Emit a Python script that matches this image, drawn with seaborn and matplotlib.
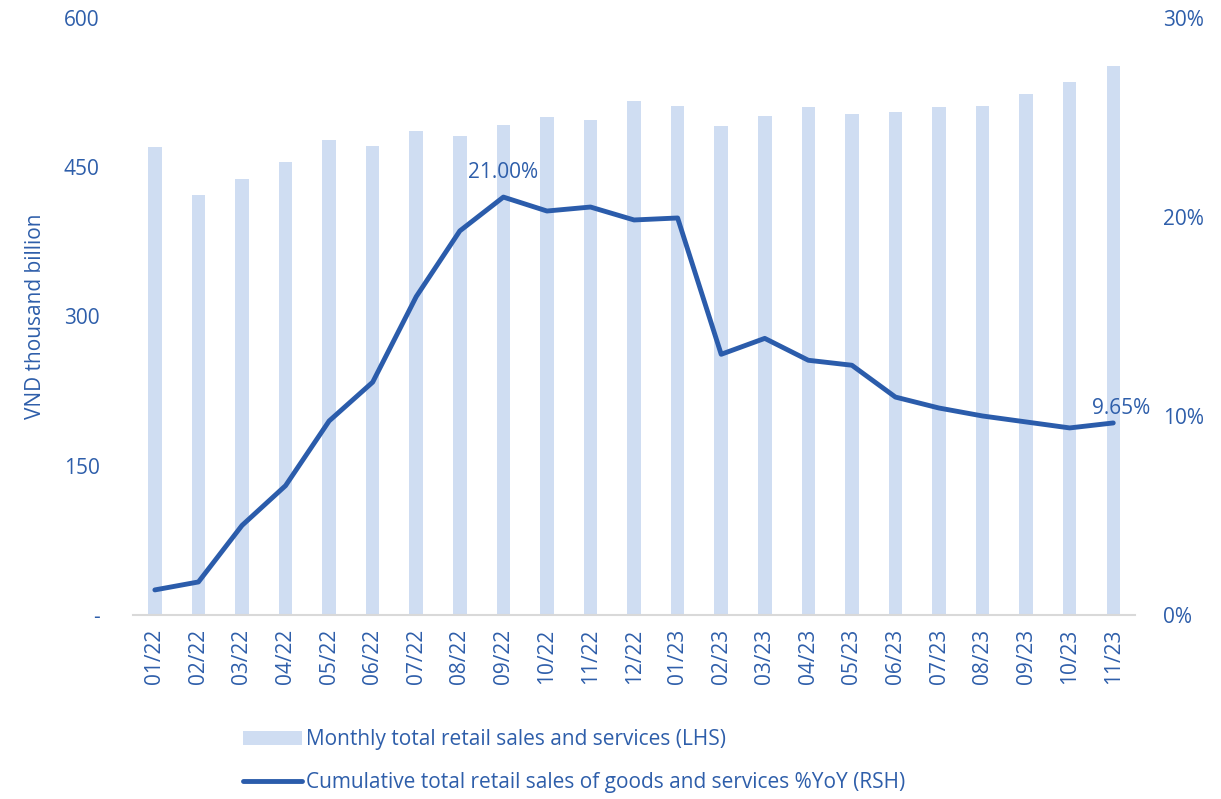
import matplotlib
matplotlib.use("Agg")
import matplotlib.pyplot as plt
import seaborn as sns
import pandas as pd
from matplotlib.patches import Patch
from matplotlib.lines import Line2D

months = ["01/22", "02/22", "03/22", "04/22", "05/22", "06/22", "07/22", "08/22",
          "09/22", "10/22", "11/22", "12/22", "01/23", "02/23", "03/23", "04/23",
          "05/23", "06/23", "07/23", "08/23", "09/23", "10/23", "11/23"]
monthly_sales = [470, 422, 438, 455, 477, 471, 486, 481, 492, 500, 497, 517,
                 512, 491, 501, 511, 503, 506, 511, 512, 524, 536, 552]
cumulative_yoy = [1.26, 1.66, 4.5, 6.5, 9.75, 11.7, 16.0, 19.3, 21.0, 20.3, 20.5, 19.85,
                  19.95, 13.1, 13.9, 12.8, 12.55, 10.95, 10.4, 10.0, 9.7, 9.4, 9.65]
left_ticks = [0, 150, 300, 450, 600]
left_labels = ["-", "150", "300", "450", "600"]
right_ticks = [0, 10, 20, 30]
right_labels = ["0%", "10%", "20%", "30%"]
bar_label = "Monthly total retail sales and services (LHS)"
line_label = "Cumulative total retail sales of goods and services %YoY (RSH)"

BAR = "#CFDDF2"
LINE = "#2B5CAB"
TXT = "#2E5EAA"
FS = 15

sns.set_style("white")
plt.rcParams["font.family"] = ["Open Sans", "DejaVu Sans"]

df = pd.DataFrame({"month": months, "sales": monthly_sales, "yoy": cumulative_yoy})

fig = plt.figure(figsize=(12.21, 7.99), dpi=100)
ax = fig.add_axes([0.109, 0.2303, 0.8206, 0.7472])
sns.barplot(data=df, x="month", y="sales", color=BAR, width=0.31, ax=ax,
            saturation=1, edgecolor="none")
ax.set_ylim(0, 600)
ax.set_xlim(-0.5, len(months) - 0.5)
ax.set_yticks(left_ticks)
ax.set_yticklabels(left_labels)
ax.set_ylabel("VND thousand billion", color=TXT, fontsize=FS, labelpad=13)
ax.set_xlabel("")
ax.tick_params(axis="y", colors=TXT, labelsize=FS, length=0, pad=24)
ax.tick_params(axis="x", colors=TXT, labelsize=FS, length=0, pad=10, labelrotation=90)
for s in ["left", "right", "top"]:
    ax.spines[s].set_visible(False)
ax.spines["bottom"].set_color("#D9D9D9")
ax.spines["bottom"].set_linewidth(1.5)

ax2 = ax.twinx()
sns.lineplot(x=list(range(len(months))), y=cumulative_yoy, color=LINE, linewidth=3.5,
             ax=ax2, legend=False)
ax2.set_ylim(0, 30)
ax2.set_yticks(right_ticks)
ax2.set_yticklabels(right_labels)
ax2.tick_params(axis="y", colors=TXT, labelsize=FS, length=0, pad=20)
for s in ["left", "right", "top", "bottom"]:
    ax2.spines[s].set_visible(False)

peak = cumulative_yoy.index(max(cumulative_yoy))
ax2.annotate(f"{cumulative_yoy[peak]:.2f}%", (peak, cumulative_yoy[peak]),
             xytext=(0, 10), textcoords="offset points", ha="center", va="bottom",
             color=TXT, fontsize=FS)
last = len(months) - 1
ax2.annotate(f"{cumulative_yoy[last]:.2f}%", (last, cumulative_yoy[last]),
             xytext=(6, 3), textcoords="offset points", ha="center", va="bottom",
             color=TXT, fontsize=FS)

handles = [Patch(facecolor=BAR, edgecolor="none"),
           Line2D([0], [0], color=LINE, linewidth=3.5)]
leg = fig.legend(handles, [bar_label, line_label], loc="lower left",
                 bbox_to_anchor=(0.184, -0.016), frameon=False, fontsize=FS,
                 labelspacing=1.05, handlelength=2.8, handletextpad=0.2)
for t in leg.get_texts():
    t.set_color(TXT)

fig.savefig("out.png", dpi=100)
